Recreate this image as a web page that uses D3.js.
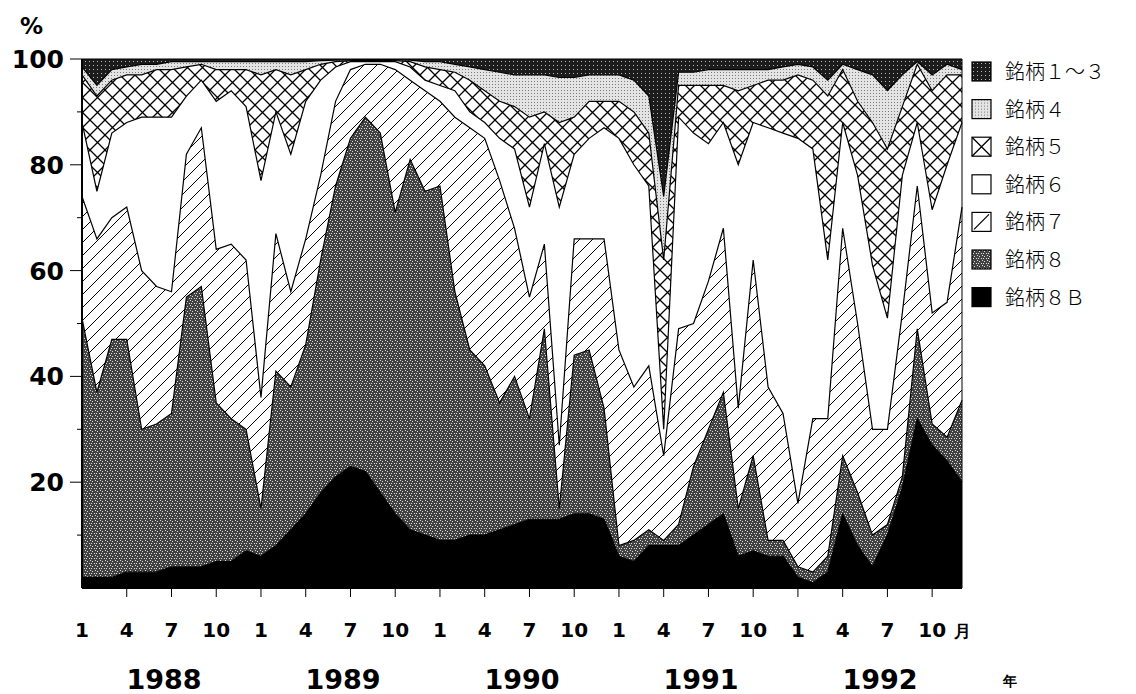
<!DOCTYPE html>
<html>
<head>
<meta charset="utf-8">
<script src="https://cdn.jsdelivr.net/npm/d3@7"></script>
<style>
  body { margin: 0; background: #fff; }
  svg { display: block; }
  .num { font-family: "DejaVu Sans", "Liberation Sans", sans-serif; font-weight: bold; fill: #000; }
  .leg { font-family: "Noto Sans CJK JP", sans-serif; font-weight: 300; fill: #000; }
</style>
</head>
<body>
<svg id="chart"></svg>
<script>
const W = 1136, H = 694;

const years = [1988, 1989, 1990, 1991, 1992];
const monthTicks = [1, 4, 7, 10];
const yTicks = [20, 40, 60, 80, 100];
const seriesNames = ['銘柄８Ｂ', '銘柄８', '銘柄７', '銘柄６', '銘柄５', '銘柄４', '銘柄１～３'];

// share (%) by month, Jan 1988 .. Dec 1992
const s8B = [2,2,2,3,3,3,4,4,4,5,5,7, 6,8,11,14,18,21,23,22,18,14,11,10, 9,9,10,10,11,12,13,13,13,14,14,13, 6,5,8,8,8,10,12,14,6,7,6,6, 2,1,3,14,8,4,10,19,32,27,24,20];
const s8 = [49,35,45,44,27,28,29,51,53,30,27,23, 9,33,27,32,44,55,62,67,68,57,70,65, 67,47,35,32,24,28,19,36,2,30,31,21, 2,4,3,1,4,13,18,23,9,18,3,3, 2,2,3,11,10,6,2,2,17,4,4.5,15.5];
const s7 = [23,29,23,25,30,26,23,27,30,29,33,32, 21,26,18,20,16,16,13,10,13,27,15,19, 16,33,42,43,42,28,23,16,12,22,21,32, 37,29,31,16,37,27,28,31,19,37,29,24, 12,29,26,43,32,20,18,31,27,21,25.5,36.5];
const s6 = [14,9,16,16,29,32,33,11,9,28,29,29, 41,23,26,26,18,6.5,1.5,0.5,0.5,1.5,2.5,2, 3,5,3,3,8,15,17,19,45,16,19,21, 40,42,34,5,40,36,26,20,46,26,49,53, 69,51,30,20,28,31,21,26,12,19.5,26,16];
const s5 = [9,18,10,9,8,9,9,5.5,3,6,4,7, 20,8,15,6,3,1,0.2,0.2,0.2,0.2,1,2.5, 3,3.5,6,6,7,8,17,6,16,7,7,5, 7,10,10,32,6,9,11,7,14,7,9,10, 12,13,31,10,14,27,32,13,11,22.5,17,9];
const s4 = [1.5,2,2,1.5,2,1,1.5,1,0.5,1.5,1.5,1.5, 2.5,1.5,2.5,1.5,0.7,0.3,0.2,0.2,0.2,0.2,0.3,1, 1.5,1.5,2.5,4,5.5,6,8,7,8.5,7.5,5,5, 5,6,7,12,2.5,2.5,3,3,4,3,2,2.5, 2,2.5,3,1,6,9,11,6,0.5,3,2,1];
const s13 = [1.5,5,2,1.5,1,1,0.5,0.5,0.5,0.5,0.5,0.5, 0.5,0.5,0.5,0.5,0.3,0.2,0.1,0.1,0.1,0.1,0.2,0.5, 0.5,1,1.5,2,2.5,3,3,3,3.5,3.5,3,3, 3,4,7,26,2.5,2.5,2,2,2,2,2,1.5, 1,1.5,4,1,2,3,6,3,0.5,3,1,2];

const seriesValues = [s8B, s8, s7, s6, s5, s4, s13];
const fills = ['#000', 'url(#p8)', 'url(#p7)', '#fff', 'url(#p5)', 'url(#p4)', 'url(#p13)'];

const rows = years.flatMap((yr, yi) => d3.range(12).map(m => {
	const i = yi * 12 + m;
	const row = { i, year: yr, month: m + 1 };
	seriesNames.forEach((n, k) => { row[n] = seriesValues[k][i]; });
	return row;
}));

const margin = { left: 82, right: 962, top: 59, bottom: 588 };

const svg = d3.select('#chart').attr('width', W).attr('height', H);
const defs = svg.append('defs');

// gray stipple (銘柄8)
const p8 = defs.append('pattern').attr('id', 'p8').attr('patternUnits', 'userSpaceOnUse')
	.attr('width', 5).attr('height', 5);
p8.append('rect').attr('width', 5).attr('height', 5).attr('fill', '#424242');
[[0, 0], [2, 1], [4, 3], [1, 3]].forEach(([x, y]) => {
	p8.append('rect').attr('x', x).attr('y', y).attr('width', 1).attr('height', 1).attr('fill', '#dcdcdc');
});

// diagonal hatch (銘柄7)
const p7 = defs.append('pattern').attr('id', 'p7').attr('patternUnits', 'userSpaceOnUse')
	.attr('width', 13).attr('height', 13);
p7.append('rect').attr('width', 13).attr('height', 13).attr('fill', '#fff');
p7.append('path').attr('d', 'M0,13 L13,0 M-3,3 L3,-3 M10,16 L16,10')
	.attr('stroke', '#000').attr('stroke-width', 1);

// cross hatch (銘柄5)
const p5 = defs.append('pattern').attr('id', 'p5').attr('patternUnits', 'userSpaceOnUse')
	.attr('width', 15).attr('height', 15);
p5.append('rect').attr('width', 15).attr('height', 15).attr('fill', '#fff');
p5.append('path').attr('d', 'M0,0 L15,15 M0,15 L15,0')
	.attr('stroke', '#000').attr('stroke-width', 1.3);

// light dots (銘柄4)
const p4 = defs.append('pattern').attr('id', 'p4').attr('patternUnits', 'userSpaceOnUse')
	.attr('width', 3).attr('height', 3);
p4.append('rect').attr('width', 3).attr('height', 3).attr('fill', '#e4e4e4');
p4.append('rect').attr('width', 1).attr('height', 1).attr('fill', '#7a7a7a');

// dark stipple (銘柄1～3)
const p13 = defs.append('pattern').attr('id', 'p13').attr('patternUnits', 'userSpaceOnUse')
	.attr('width', 4).attr('height', 4);
p13.append('rect').attr('width', 4).attr('height', 4).attr('fill', '#1c1c1c');
p13.append('rect').attr('x', 1).attr('y', 1).attr('width', 1).attr('height', 1).attr('fill', '#bbb');

const x = d3.scaleLinear().domain([0, rows.length - 1]).range([margin.left, margin.right]);
const y = d3.scaleLinear().domain([0, 100]).range([margin.bottom, margin.top]);

const stacked = d3.stack().keys(seriesNames)(rows);

const area = d3.area()
	.x(d => x(d.data.i))
	.y0(d => y(d[0]))
	.y1(d => y(d[1]));

const line = d3.line()
	.x(d => x(d.data.i))
	.y(d => y(d[1]));

const plot = svg.append('g');

plot.selectAll('path.layer')
	.data(stacked)
	.enter()
	.append('path')
	.attr('class', 'layer')
	.attr('d', area)
	.attr('fill', (d, k) => fills[k]);

plot.selectAll('path.edge')
	.data(stacked)
	.enter()
	.append('path')
	.attr('class', 'edge')
	.attr('d', line)
	.attr('fill', 'none')
	.attr('stroke', '#000')
	.attr('stroke-width', 1.2)
	.attr('stroke-linejoin', 'miter');

// right border of the plot
plot.append('line')
	.attr('x1', margin.right).attr('x2', margin.right)
	.attr('y1', margin.top).attr('y2', margin.bottom)
	.attr('stroke', '#000').attr('stroke-width', 1);

// y axis
const yAxis = svg.append('g');
yAxis.append('line')
	.attr('x1', margin.left).attr('x2', margin.left)
	.attr('y1', margin.top).attr('y2', margin.bottom)
	.attr('stroke', '#000').attr('stroke-width', 2);
yAxis.selectAll('line.tick')
	.data(d3.range(10, 101, 10))
	.enter()
	.append('line')
	.attr('x1', d => (d % 20 === 0 ? margin.left - 12 : margin.left - 5))
	.attr('x2', margin.left)
	.attr('y1', d => y(d)).attr('y2', d => y(d))
	.attr('stroke', '#000').attr('stroke-width', 1);
yAxis.selectAll('text')
	.data(yTicks)
	.enter()
	.append('text')
	.attr('class', 'num')
	.attr('x', 64)
	.attr('y', d => y(d) + 9)
	.attr('text-anchor', 'end')
	.attr('font-size', 25)
	.text(d => d);
svg.append('text')
	.attr('class', 'num')
	.attr('x', 20).attr('y', 34)
	.attr('font-size', 23)
	.text('%');

// x axis
const xAxis = svg.append('g');
xAxis.append('line')
	.attr('x1', margin.left).attr('x2', margin.right)
	.attr('y1', margin.bottom).attr('y2', margin.bottom)
	.attr('stroke', '#000').attr('stroke-width', 2);
const tickRows = rows.filter(r => monthTicks.includes(r.month));
xAxis.selectAll('line.tick')
	.data(tickRows.filter(r => r.i > 0))
	.enter()
	.append('line')
	.attr('x1', d => x(d.i)).attr('x2', d => x(d.i))
	.attr('y1', margin.bottom).attr('y2', margin.bottom + 9)
	.attr('stroke', '#000').attr('stroke-width', 1);
xAxis.selectAll('text.m')
	.data(tickRows)
	.enter()
	.append('text')
	.attr('class', 'num m')
	.attr('x', d => x(d.i))
	.attr('y', 637)
	.attr('text-anchor', 'middle')
	.attr('font-size', 20)
	.text(d => d.month);
xAxis.append('text')
	.attr('class', 'num')
	.attr('x', x(rows.length - 1))
	.attr('y', 637)
	.attr('text-anchor', 'middle')
	.attr('font-size', 17)
	.text('月');
xAxis.selectAll('text.y')
	.data(years)
	.enter()
	.append('text')
	.attr('class', 'num y')
	.attr('x', (d, k) => x(k * 12 + 5.5))
	.attr('y', 689)
	.attr('text-anchor', 'middle')
	.attr('font-size', 27)
	.text(d => d);
xAxis.append('text')
	.attr('class', 'num')
	.attr('x', 1010).attr('y', 686)
	.attr('text-anchor', 'middle')
	.attr('font-size', 14)
	.text('年');

// legend (top entry is 銘柄1～3)
const legendData = seriesNames.map((n, k) => ({ name: n, k })).reverse();
const legend = svg.append('g');
const item = legend.selectAll('g')
	.data(legendData)
	.enter()
	.append('g')
	.attr('transform', (d, j) => `translate(972, ${62 + j * 37.6})`);
item.append('rect')
	.attr('width', 19).attr('height', 19)
	.attr('fill', d => (d.k === 2 || d.k === 4 ? '#fff' : fills[d.k]))
	.attr('stroke', '#000').attr('stroke-width', 1.2);
item.filter(d => d.k === 4)
	.append('path').attr('d', 'M0,0 L19,19 M0,19 L19,0')
	.attr('stroke', '#000').attr('stroke-width', 1.3);
item.filter(d => d.k === 2)
	.append('path').attr('d', 'M2,17 L17,2')
	.attr('stroke', '#000').attr('stroke-width', 1.2);
item.append('text')
	.attr('class', 'leg')
	.attr('x', 33).attr('y', 17)
	.attr('font-size', 20)
	.text(d => d.name);
</script>
</body>
</html>
